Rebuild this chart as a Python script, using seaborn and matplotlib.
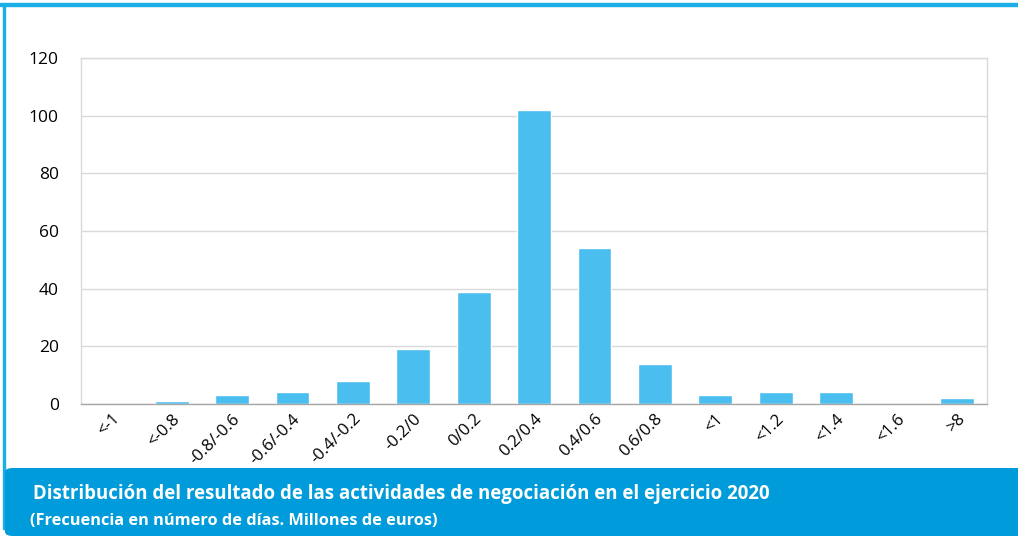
import seaborn as sns
import matplotlib.pyplot as plt
import pandas as pd
from matplotlib.patches import Rectangle, FancyBboxPatch

categories = ['<-1', '<-0.8', '-0.8/-0.6', '-0.6/-0.4', '-0.4/-0.2', '-0.2/0', '0/0.2',
              '0.2/0.4', '0.4/0.6', '0.6/0.8', '<1', '<1.2', '<1.4', '<1.6', '>8']
dias = [0, 1, 3, 4, 8, 19, 39, 102, 54, 14, 3, 4, 4, 0, 2]
y_ticks = [0, 20, 40, 60, 80, 100, 120]

title = 'Distribución del resultado de las actividades de negociación en el ejercicio 2020'
subtitle = '(Frecuencia en número de días. Millones de euros)'

df = pd.DataFrame({'tramo': categories, 'dias': dias})

sns.set_style('white')
plt.rcParams['font.family'] = ['Open Sans', 'DejaVu Sans']

fig = plt.figure(figsize=(10.18, 5.4), dpi=100)
ax = fig.add_axes([0.0796, 0.2519, 0.890, 0.6407])

sns.barplot(data=df, x='tramo', y='dias', color='#4BBEF0', saturation=1,
            width=0.56, ax=ax)

ax.set_ylim(0, 120)
ax.set_xlim(-0.5, len(categories) - 0.5)
ax.set_yticks(y_ticks)
ax.yaxis.grid(True, color='#d9d9d9', linewidth=1)
ax.set_axisbelow(True)
ax.set_xlabel('')
ax.set_ylabel('')
ax.tick_params(axis='y', length=0, pad=16, labelsize=12.5, labelcolor='#000000')
ax.tick_params(axis='x', length=0, pad=5, labelsize=12, labelcolor='#000000')
ax.set_xticks(range(len(categories)))
ax.set_xticklabels(categories, rotation=45, ha='right', rotation_mode='anchor')
for side in ['top', 'right', 'left']:
    ax.spines[side].set_color('#d9d9d9')
    ax.spines[side].set_linewidth(1)
ax.spines['bottom'].set_color('#a6a6a6')
ax.spines['bottom'].set_linewidth(1)

# outer frame
fig.patches.append(Rectangle((0, 1 - 6 / 540), 1, 3 / 540, transform=fig.transFigure,
                             color='#1AAFE6', zorder=0))
fig.patches.append(Rectangle((3 / 1018, 0.02), 2 / 1018, 0.97, transform=fig.transFigure,
                             color='#1AAFE6', zorder=0))
fig.patches.append(FancyBboxPatch((5 / 1018, 4 / 540), 1.02 - 5 / 1018, 68 / 540,
                                  boxstyle='round,pad=0,rounding_size=0.008',
                                  transform=fig.transFigure, facecolor='#009BDA',
                                  edgecolor='none', zorder=0))

fig.text(33 / 1018, 1 - 494 / 540, title, color='white', fontsize=13.4,
         fontweight='bold', va='center', ha='left')
fig.text(30 / 1018, 1 - 521 / 540, subtitle, color='white', fontsize=11.8,
         fontweight='bold', va='center', ha='left')

fig.savefig('out.png', dpi=100)
plt.close(fig)
